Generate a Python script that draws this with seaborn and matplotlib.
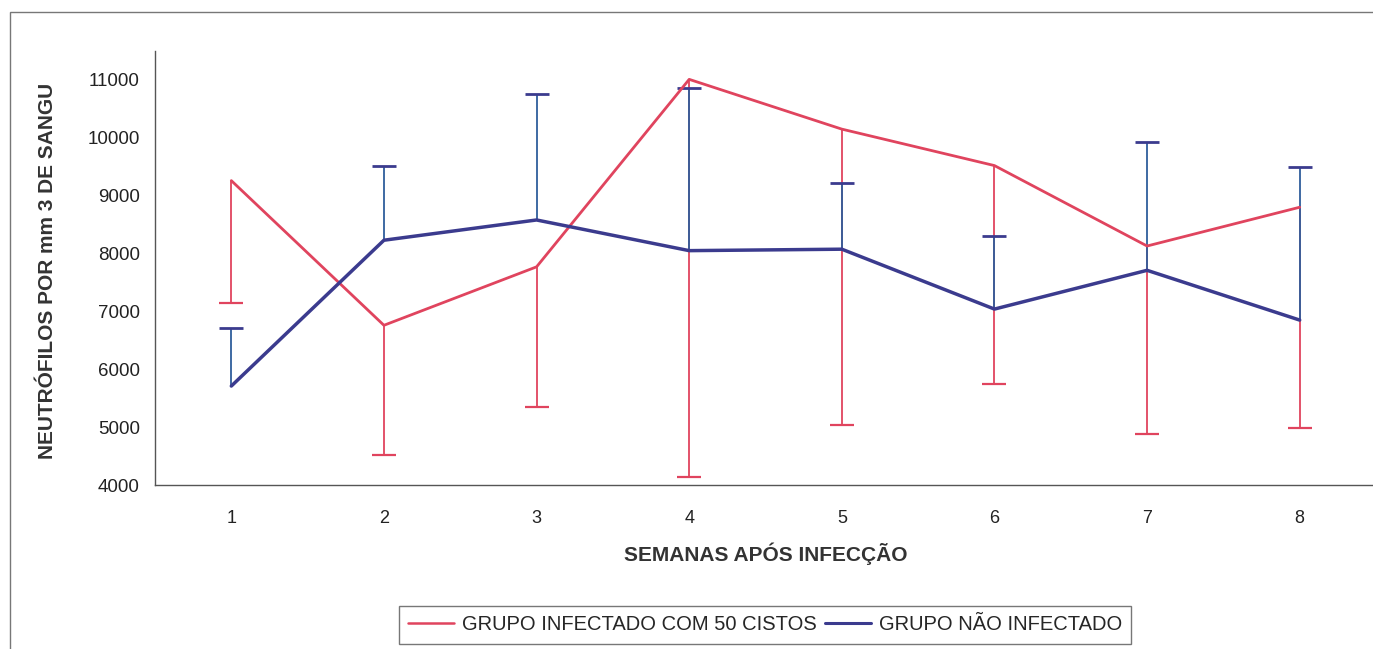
"""Neutrophil counts per week after infection (one-sided error bars)."""
import matplotlib.pyplot as plt
import numpy as np
import pandas as pd
import seaborn as sns
from matplotlib.lines import Line2D
from matplotlib.patches import Rectangle

weeks = [1, 2, 3, 4, 5, 6, 7, 8]
infected = [9260, 6760, 7770, 11010, 10150, 9520, 8130, 8800]
infected_low = [7150, 4520, 5340, 4130, 5030, 5740, 4880, 4980]
control = [5710, 8230, 8580, 8050, 8075, 7040, 7710, 6850]
control_high = [6710, 9510, 10755, 10860, 9215, 8300, 9925, 9500]

series_names = ["GRUPO INFECTADO COM 50 CISTOS", "GRUPO NÃO INFECTADO"]
RED = "#E0445E"
NAVY = "#3B3B8E"
ERR_BLUE = "#2F5E9C"
GRAY = "#555555"

df = pd.DataFrame({
    "semana": weeks * 2,
    "valor": infected + control,
    "grupo": [series_names[0]] * 8 + [series_names[1]] * 8,
})

sns.set_style("white")
plt.rcParams["font.family"] = ["Liberation Sans", "DejaVu Sans"]

fig = plt.figure(figsize=(13.73, 6.49), dpi=100)
W, H = 1373, 649
ax = fig.add_axes([155 / W, 1 - 485 / H, (1376 - 155) / W, (485 - 51) / H])

# chart frame (Excel chart area border)
fig.patches.append(Rectangle((10 / W, -0.05), 1.2, 1 - 12 / H + 0.05,
                             transform=fig.transFigure, fill=False,
                             edgecolor="#777777", linewidth=1.0, zorder=0))

# one-sided error bars: stem from the mean, cap only at the far end
ax.vlines(weeks, infected_low, infected, colors=RED, linewidth=1.3, zorder=2)
ax.plot(weeks, infected_low, ls="none", marker="_", ms=17, mew=1.6, color=RED, zorder=2)
ax.vlines(weeks, control, control_high, colors=ERR_BLUE, linewidth=1.3, zorder=2)
ax.plot(weeks, control_high, ls="none", marker="_", ms=17, mew=2.0, color=NAVY, zorder=2)

sns.lineplot(data=df, x="semana", y="valor", hue="grupo",
             palette={series_names[0]: RED, series_names[1]: NAVY},
             linewidth=2.2, legend=False, ax=ax, zorder=3)
for line, lw in zip(ax.get_lines()[2:], [2.0, 2.5]):
    line.set_linewidth(lw)

ax.set_xlim(0.5, 8.5)
ax.set_ylim(4000, 11500)
ax.set_yticks(np.arange(4000, 11001, 1000))
ax.set_xticks(weeks)
ax.set_xticks(np.arange(0.5, 8.6, 1), minor=True)
ax.tick_params(axis="x", which="major", length=0, pad=18, labelsize=13, colors="#222222")
ax.tick_params(axis="x", which="minor", length=5, width=0.9, color=GRAY, direction="out")
ax.tick_params(axis="y", length=5, width=0.9, color=GRAY, direction="out",
               labelsize=13.5, labelcolor="#222222", pad=6)

for side in ["top", "right"]:
    ax.spines[side].set_visible(False)
for side in ["left", "bottom"]:
    ax.spines[side].set_color(GRAY)
    ax.spines[side].set_linewidth(1.0)

ax.set_xlabel("SEMANAS APÓS INFECÇÃO", fontsize=15, fontweight="bold",
              color="#333333", labelpad=11)
ax.set_ylabel("NEUTRÓFILOS POR mm 3 DE SANGU", fontsize=15, fontweight="bold",
              color="#333333")
ax.yaxis.set_label_coords(-0.080, 0.493)

handles = [Line2D([0], [0], color=RED, lw=1.8),
           Line2D([0], [0], color=NAVY, lw=2.2)]
leg = fig.legend(handles, series_names, loc="center", bbox_to_anchor=(765 / W, 1 - 625 / H),
                 ncol=2, frameon=True, fancybox=False, fontsize=14.5, handlelength=2.3,
                 handletextpad=0.4, columnspacing=0.4, borderpad=0.45)
leg.get_frame().set_edgecolor("#555555")
leg.get_frame().set_linewidth(1.0)

fig.savefig("out.png", dpi=100)
